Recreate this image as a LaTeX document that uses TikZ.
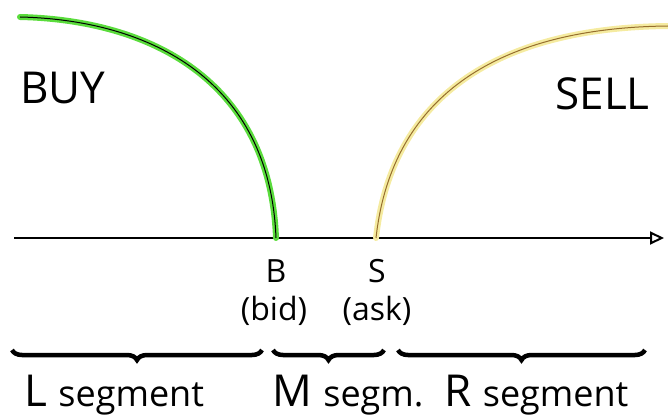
\documentclass[tikz,border=0pt]{standalone}
\usepackage{fontspec}
\setmainfont{Open Sans}
\usetikzlibrary{arrows.meta,decorations.pathreplacing}
\definecolor{buyglow}{RGB}{90,220,60}
\definecolor{sellglow}{RGB}{245,235,160}
\definecolor{sellline}{RGB}{150,110,45}
\tikzset{
  lbl/.style={inner sep=0pt, anchor=base},
  segbrace/.style={decorate, decoration={brace, mirror, amplitude=10pt}, line width=4.5pt},
}
\begin{document}
\begin{tikzpicture}[x=1pt,y=-1pt]
\useasboundingbox (0,0) rectangle (668,417);
% axis
\coordinate (ax0) at (14,238);
\coordinate (ax1) at (664,238);
\draw[line width=1.6pt, -{Triangle[open,length=14pt,width=13pt,line width=2pt]}] (ax0) -- (ax1);
% buy curve
\coordinate (b0) at (20,17);
\coordinate (bB) at (276,238);
\draw[buyglow, line width=6pt, line cap=round] (b0) .. controls (150,20) and (270,80) .. (bB);
\draw[black, line width=1pt] (b0) .. controls (150,20) and (270,80) .. (bB);
% sell curve
\coordinate (s0) at (376,238);
\coordinate (s1) at (668,26);
\draw[sellglow, line width=6pt, line cap=round] (s0) .. controls (390,110) and (480,28) .. (s1);
\draw[sellline, line width=1pt] (s0) .. controls (390,110) and (480,28) .. (s1);
% labels
\node[lbl, anchor=base west, font=\fontsize{44}{44}\selectfont] (buy) at (20,103) {BUY};
\node[lbl, anchor=base east, font=\fontsize{44}{44}\selectfont] (sell) at (650,110) {SELL};
\node[lbl, font=\fontsize{32}{32}\selectfont] (B) at (276,282) {B};
\node[lbl, font=\fontsize{32}{32}\selectfont] (bid) at (274,320) {(bid)};
\node[lbl, font=\fontsize{32}{32}\selectfont] (S) at (377,282) {S};
\node[lbl, font=\fontsize{32}{32}\selectfont] (ask) at (377,320) {(ask)};
% braces
\coordinate (l0) at (12,350); \coordinate (l1) at (262,350);
\coordinate (m0) at (273,350); \coordinate (m1) at (384,350);
\coordinate (r0) at (398,350); \coordinate (r1) at (645,350);
\draw[segbrace] (l0) -- (l1);
\draw[segbrace] (m0) -- (m1);
\draw[segbrace] (r0) -- (r1);
\node[lbl, anchor=base west] (Lseg) at (24,406) {\fontsize{44}{44}\selectfont L \fontsize{36}{36}\selectfont segment};
\node[lbl, anchor=base west] (Mseg) at (272,406) {\fontsize{44}{44}\selectfont M \fontsize{36}{36}\selectfont segm.};
\node[lbl, anchor=base west] (Rseg) at (444,406) {\fontsize{44}{44}\selectfont R \fontsize{36}{36}\selectfont segment};
\end{tikzpicture}
\end{document}
